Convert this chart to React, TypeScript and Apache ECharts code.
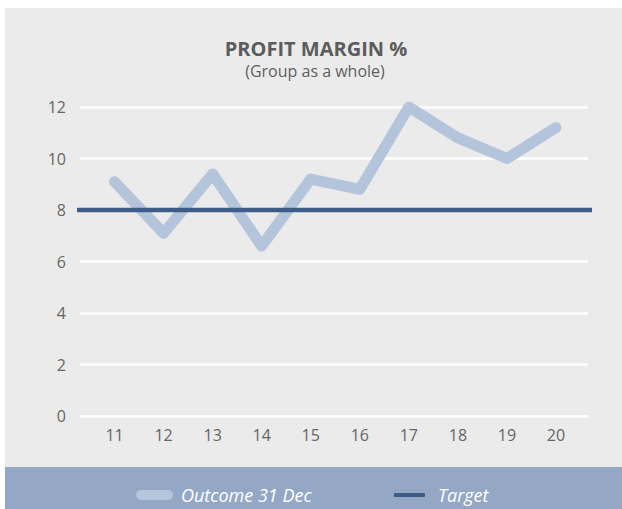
import React, { useEffect, useRef } from "react";
import * as echarts from "echarts";

const categories = ["11", "12", "13", "14", "15", "16", "17", "18", "19", "20"];
const outcome = [9.1, 7.1, 9.4, 6.6, 9.2, 8.8, 12.0, 10.8, 10.0, 11.2];
const targetValue = 8;
const yTicks = { min: 0, max: 12, interval: 2 };
const titleText = "PROFIT MARGIN %";
const subtitleText = "(Group as a whole)";
const outcomeName = "Outcome 31 Dec";
const targetName = "Target";

const FONT = "'Open Sans', 'DejaVu Sans', sans-serif";

export default function App() {
  const ref = useRef<HTMLDivElement>(null);
  useEffect(() => {
    if (!ref.current) return;
    const chart = echarts.init(ref.current, null, { renderer: "svg" });
    const option: any = {
      animation: false,
      textStyle: { fontFamily: FONT },
      graphic: [
        { type: "rect", z: -10, silent: true, shape: { x: 5, y: 8, width: 617, height: 459 }, style: { fill: "#ebebeb" } },
        { type: "rect", z: -10, silent: true, shape: { x: 5, y: 467, width: 617, height: 42 }, style: { fill: "#94a8c6" } },
      ],
      title: [
        {
          text: titleText,
          left: 316,
          top: 38,
          padding: 0,
          textAlign: "center",
          textStyle: { fontFamily: FONT, fontSize: 20, lineHeight: 20, fontWeight: "bold", color: "#5c5c5c" },
        },
        {
          text: subtitleText,
          left: 315,
          top: 63,
          padding: 0,
          textAlign: "center",
          textStyle: { fontFamily: FONT, fontSize: 16, lineHeight: 16, fontWeight: "normal", color: "#5f5f5f" },
        },
      ],
      legend: [
        {
          data: [{ name: outcomeName, itemStyle: { color: "#b6c6dc" } }],
          left: 136,
          top: 485,
          padding: 0,
          itemWidth: 37,
          itemHeight: 10,
          icon: "path://M5,0 L32,0 A5,5 0 0 1 32,10 L5,10 A5,5 0 0 1 5,0 Z",
          itemStyle: { borderWidth: 0 },
          textStyle: { fontFamily: FONT, fontSize: 18, fontStyle: "italic", color: "#ffffff", padding: [0, 0, 0, 3], lineHeight: 20 },
        },
        {
          data: [{ name: targetName, itemStyle: { color: "#3f5b88" } }],
          left: 394,
          top: 485,
          padding: 0,
          itemWidth: 31,
          itemHeight: 4,
          icon: "roundRect",
          itemStyle: { borderWidth: 0 },
          textStyle: { fontFamily: FONT, fontSize: 18, fontStyle: "italic", color: "#ffffff", padding: [0, 0, 0, 8], lineHeight: 20 },
        },
      ],
      grid: [
        { left: 80, right: 34, top: 107, bottom: 93 },
        { left: 90, right: 41.5, top: 107, bottom: 93 },
        { left: 77, right: 30, top: 107, bottom: 93 },
      ],
      xAxis: [
        { type: "value", gridIndex: 0, min: 0, max: 1, show: false },
        {
          type: "category",
          gridIndex: 1,
          data: categories,
          boundaryGap: true,
          axisLine: { show: false },
          axisTick: { show: false },
          axisLabel: { fontFamily: FONT, fontSize: 16, color: "#666666", margin: 11 },
        },
        { type: "value", gridIndex: 2, min: 0, max: 1, show: false },
      ],
      yAxis: [
        {
          type: "value",
          gridIndex: 0,
          min: yTicks.min,
          max: yTicks.max,
          interval: yTicks.interval,
          axisLine: { show: false },
          axisTick: { show: false },
          axisLabel: { fontFamily: FONT, fontSize: 16, color: "#666666", margin: 14 },
          splitLine: { lineStyle: { color: "#ffffff", width: 2.5 } },
        },
        { type: "value", gridIndex: 1, min: yTicks.min, max: yTicks.max, show: false },
        { type: "value", gridIndex: 2, min: yTicks.min, max: yTicks.max, show: false },
      ],
      series: [
        {
          name: outcomeName,
          type: "line",
          xAxisIndex: 1,
          yAxisIndex: 1,
          data: outcome,
          symbol: "none",
          color: "#b4c5db",
          lineStyle: { color: "#b4c5db", width: 11, cap: "round", join: "round" },
          z: 2,
        },
        {
          name: targetName,
          type: "line",
          xAxisIndex: 2,
          yAxisIndex: 2,
          data: [[0, targetValue], [1, targetValue]],
          symbol: "none",
          color: "#3f5b88",
          lineStyle: { color: "#3f5b88", width: 4.5, cap: "butt" },
          z: 3,
        },
      ],
    };
    chart.setOption(option);
    return () => chart.dispose();
  }, []);
  return (
    <div
      ref={ref}
      style={{ position: "absolute", left: 0, top: 0, width: 622, height: 509 }}
    />
  );
}
